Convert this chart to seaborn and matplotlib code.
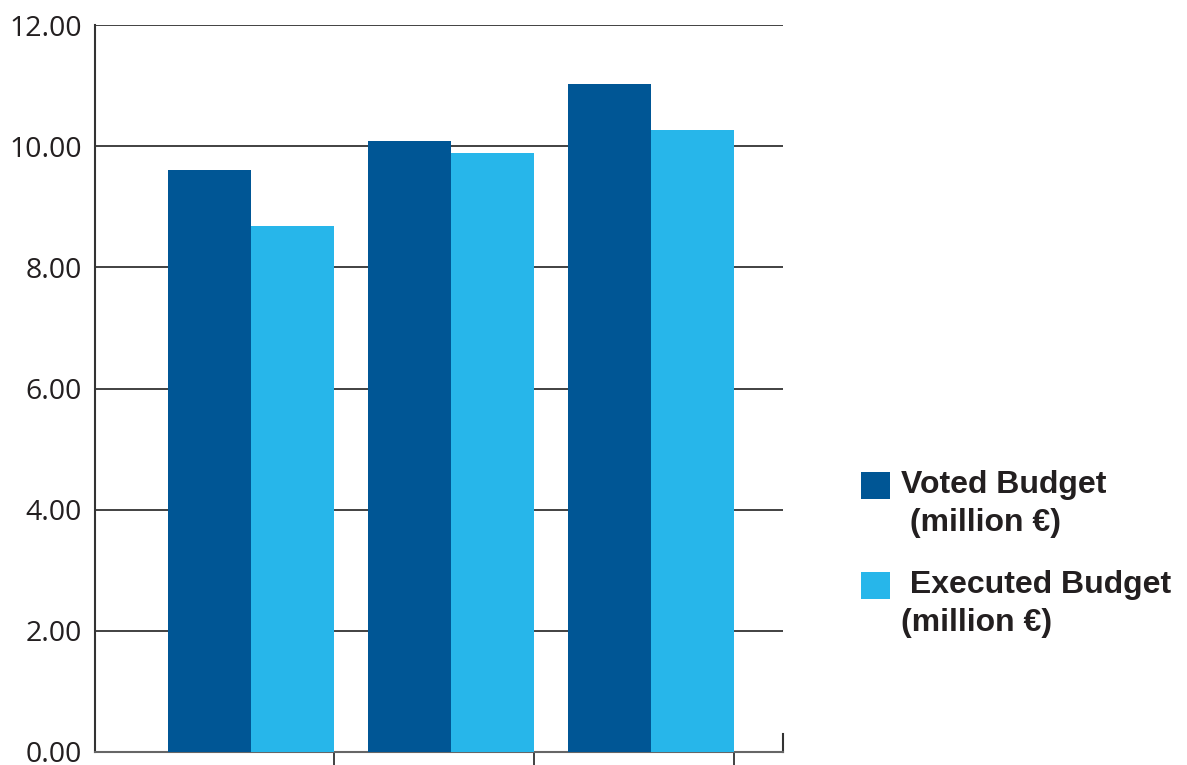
import matplotlib
matplotlib.use("Agg")
import matplotlib.pyplot as plt
import seaborn as sns
import pandas as pd
from matplotlib.ticker import FormatStrFormatter
from matplotlib.legend_handler import HandlerPatch
from matplotlib.patches import Rectangle

categories = ["Period 1", "Period 2", "Period 3"]
series_names = ["Voted Budget\n (million €)", " Executed Budget\n(million €)"]
voted = [9.61, 10.09, 11.03]
executed = [8.68, 9.89, 10.27]
y_ticks = [0, 2, 4, 6, 8, 10, 12]
colors = ["#005695", "#27b6ea"]

df = pd.DataFrame({
    "category": categories * 2,
    "series": [series_names[0]] * 3 + [series_names[1]] * 3,
    "value": voted + executed,
})

sns.set_style("white")
plt.rcParams["font.family"] = ["Open Sans", "DejaVu Sans"]

fig = plt.figure(figsize=(11.87, 7.65), dpi=100)
ax = fig.add_axes([95 / 1187, 13 / 765, (783 - 95) / 1187, (752 - 25) / 765])

sns.barplot(data=df, x="category", y="value", hue="series", order=categories,
            hue_order=series_names, palette=colors, width=0.83, gap=0,
            linewidth=0, saturation=1, ax=ax, zorder=3)

ax.set_ylim(0, 12)
ax.set_xlim(-0.78, 2.66)
ax.set_yticks(y_ticks)
ax.yaxis.set_major_formatter(FormatStrFormatter("%.2f"))
ax.tick_params(axis="y", left=False, length=0, pad=9.5, labelsize=20.5,
               labelcolor="#231f20")
ax.set_xticks([i + 0.415 for i in range(len(categories))])
ax.set_xticklabels([""] * len(categories))
ax.tick_params(axis="x", bottom=True, direction="out", length=14, width=1.3,
               color="#333333")
ax.set_xlabel("")
ax.set_ylabel("")

ax.yaxis.grid(True, color="#333333", linewidth=1.3, zorder=0)
ax.set_axisbelow(True)

ax.spines["top"].set_visible(False)
ax.spines["left"].set_color("#333333")
ax.spines["left"].set_linewidth(1.5)
ax.spines["bottom"].set_color("#666666")
ax.spines["bottom"].set_linewidth(1.5)
ax.spines["right"].set_color("#333333")
ax.spines["right"].set_linewidth(1.5)
ax.spines["right"].set_bounds(0, 0.3)


def square_top(legend, orig_handle, xdescent, ydescent, width, height, fontsize):
    return Rectangle((-xdescent, -ydescent + 13.5), width, height)


handles, labels = ax.get_legend_handles_labels()
leg = ax.legend(handles, labels, loc="upper left",
                bbox_to_anchor=(861 / 1187, (765 - 470) / 765),
                bbox_transform=fig.transFigure, frameon=False,
                prop={"family": "Liberation Sans", "weight": "bold", "size": 23},
                labelcolor="#231f20", handlelength=0.91, handleheight=0.91,
                handletextpad=0.34, labelspacing=1.0, borderpad=0, borderaxespad=0,
                handler_map={Rectangle: HandlerPatch(patch_func=square_top)})
for t in leg.get_texts():
    t.set_linespacing(1.35)

fig.savefig("out.png", dpi=100)
